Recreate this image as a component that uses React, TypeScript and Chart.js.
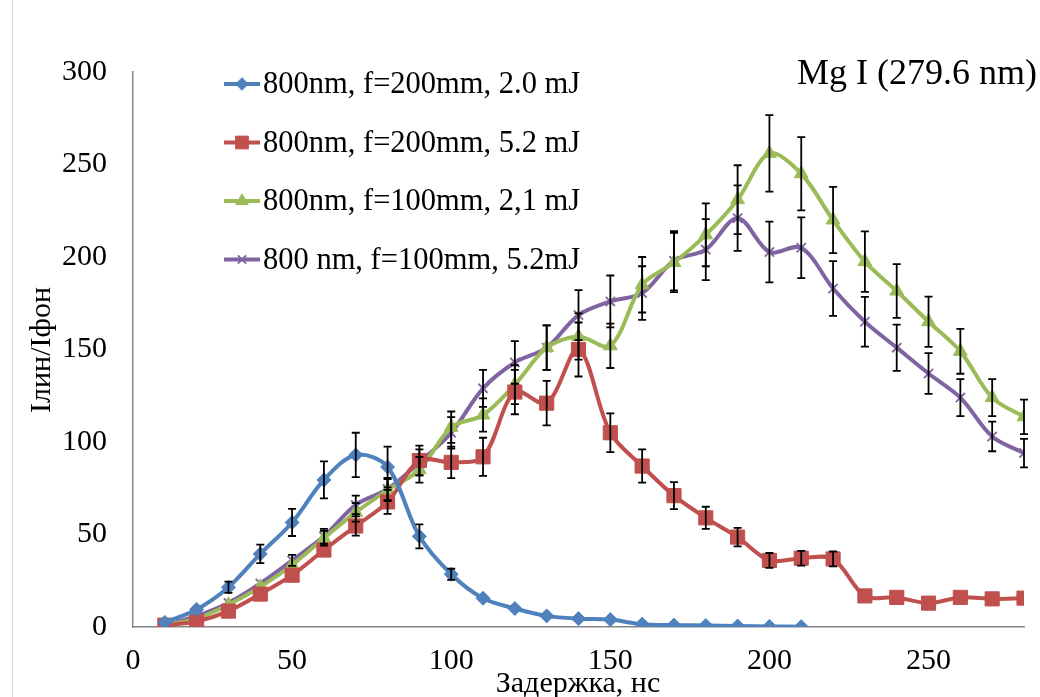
import React, { useEffect, useRef } from "react";
import { Chart, registerables } from "chart.js";
import { drawPoint } from "chart.js/helpers";

Chart.register(...registerables);

const delays = [10, 20, 30, 40, 50, 60, 70, 80, 90, 100, 110, 120, 130, 140, 150, 160, 170, 180, 190, 200, 210, 220, 230, 240, 250, 260, 270, 280];
const blueDelays = [10, 20, 30, 40, 50, 60, 70, 80, 90, 100, 110, 120, 130, 140, 150, 160, 170, 180, 190, 200, 210];

const blueValues = [2.5, 9.5, 21.5, 39.5, 56.5, 79.5, 93, 86.5, 49, 28.5, 15.5, 10, 6, 4.5, 4, 1.5, 1, 0.8, 0.5, 0.3, 0.2];
const blueErrors = [0.3, 1, 3, 5, 7.3, 10, 12, 11, 6.5, 3, 1.5, 1, 0.6, 0.5, 0.4, 0.2, 0.1, 0.1, 0.1, 0.1, 0.1];

const redValues = [1, 3, 8.6, 17.8, 28, 41.6, 54.6, 67.6, 90, 89, 92, 127, 121, 150, 105, 87, 71, 59, 48.6, 36, 37.2, 36.8, 16.8, 16, 12.9, 16, 15.2, 15.6];
const redErrors = [0.2, 0.5, 1, 1.5, 2.5, 3.5, 5.2, 6.5, 8, 8.5, 10.3, 12, 12, 14.6, 10.5, 9, 7.3, 6, 5, 4, 4, 4, 1.5, 1.5, 1, 1.5, 1.5, 1.5];

const greenValues = [1, 4.5, 12, 21.7, 33.5, 48, 62, 74, 85, 108, 114.6, 131, 151, 157, 152, 185, 197, 212, 231, 256, 245, 220, 197.5, 181.6, 165, 149, 124, 113.6];
const greenErrors = [0.1, 0.5, 1, 2, 3, 4, 5, 6, 7, 8.5, 9, 10.5, 12, 12.5, 12, 15, 16, 17, 18.6, 20.7, 19.8, 17.9, 16.3, 14.5, 13.6, 12.1, 10, 9.3];

const purpleValues = [1, 6, 13, 23.5, 36, 49, 66, 74.6, 89, 105, 129, 143, 151, 168.6, 176, 180.5, 198, 204, 221, 202.7, 205, 183, 165, 151, 137, 124, 103, 94];
const purpleErrors = [0.1, 0.5, 1, 2, 3, 4, 5, 6, 7, 8.5, 10, 11.5, 12, 13.5, 14, 14.5, 16, 16.5, 17.7, 16.4, 16.4, 14.8, 13.4, 12.5, 11, 10, 8, 7.7];

const seriesLabels = [
  "800nm, f=200mm, 2.0 mJ",
  "800nm, f=200mm, 5.2 mJ",
  "800nm, f=100mm, 2,1 mJ",
  "800 nm, f=100mm, 5.2mJ",
];

const chartTitle = "Mg I (279.6 nm)";
const xTitle = "Задержка, нс";
const yTitle = "Iлин/Iфон";

const FONT = "'Liberation Serif', 'Times New Roman', serif";

const COLORS = ["#4F81BD", "#C0504D", "#9BBB59", "#8064A2"];
const MARKERS = ["rectRot", "rect", "triangle", "crossRot"];
const RADII = [7, 10, 8, 6.5];

function pts(xs: number[], ys: number[]) {
  return xs.map((x, i) => ({ x, y: ys[i] }));
}

const errorSets = [
  { xs: blueDelays, ys: blueValues, es: blueErrors, r: RADII[0] },
  { xs: delays, ys: redValues, es: redErrors, r: RADII[1] },
  { xs: delays, ys: greenValues, es: greenErrors, r: RADII[2] },
  { xs: delays, ys: purpleValues, es: purpleErrors, r: RADII[3] },
];

const errorBarPlugin = {
  id: "errorBars",
  afterDatasetsDraw(chart: any) {
    const ctx = chart.ctx;
    const xs = chart.scales.x;
    const ys = chart.scales.y;
    ctx.save();
    ctx.strokeStyle = "#000000";
    ctx.lineWidth = 1.8;
    errorSets.forEach((s) => {
      s.xs.forEach((xv, i) => {
        const e = s.es[i];
        if (!e) return;
        const px = xs.getPixelForValue(xv);
        const top = ys.getPixelForValue(s.ys[i] + e);
        const bot = ys.getPixelForValue(Math.max(0, s.ys[i] - e));
        if ((bot - top) / 2 < s.r * 0.7) return;
        ctx.beginPath();
        ctx.moveTo(px, top);
        ctx.lineTo(px, bot);
        ctx.moveTo(px - 4, top);
        ctx.lineTo(px + 4, top);
        ctx.moveTo(px - 4, bot);
        ctx.lineTo(px + 4, bot);
        ctx.stroke();
      });
    });
    ctx.restore();
  },
};

const decorPlugin = {
  id: "decor",
  afterDraw(chart: any) {
    const ctx = chart.ctx;
    ctx.save();
    ctx.strokeStyle = "#D9D9D9";
    ctx.lineWidth = 1;
    ctx.beginPath();
    ctx.moveTo(12.5, 0);
    ctx.lineTo(12.5, chart.height);
    ctx.stroke();

    const rowY = [84, 142.5, 201, 259.5];
    chart.data.datasets.forEach((ds: any, i: number) => {
      const y = rowY[i];
      ctx.strokeStyle = ds.borderColor;
      ctx.lineWidth = 4;
      ctx.beginPath();
      ctx.moveTo(224, y);
      ctx.lineTo(260, y);
      ctx.stroke();
      ctx.fillStyle = ds.pointBackgroundColor;
      ctx.strokeStyle = ds.pointBorderColor;
      ctx.lineWidth = ds.pointBorderWidth;
      drawPoint(ctx, { pointStyle: ds.pointStyle, radius: ds.pointRadius * 0.9, rotation: 0, borderWidth: ds.pointBorderWidth }, 242, y);
      ctx.fillStyle = "#000000";
      ctx.font = `30.5px ${FONT}`;
      ctx.textAlign = "left";
      ctx.textBaseline = "middle";
      ctx.fillText(seriesLabels[i], 263, y + 1);
    });

    ctx.fillStyle = "#000000";
    ctx.font = `36px ${FONT}`;
    ctx.textAlign = "right";
    ctx.textBaseline = "middle";
    ctx.fillText(chartTitle, 1037, 75);

    ctx.font = `30px ${FONT}`;
    ctx.textAlign = "center";
    ctx.textBaseline = "alphabetic";
    ctx.fillText(xTitle, 578, 692);

    ctx.save();
    ctx.translate(42, 350);
    ctx.rotate(-Math.PI / 2);
    ctx.textAlign = "center";
    ctx.textBaseline = "middle";
    ctx.fillText(yTitle, 0, 0);
    ctx.restore();

    ctx.restore();
  },
};

function makeDataset(i: number, data: any[], borderW: number) {
  return {
    label: seriesLabels[i],
    data,
    borderColor: COLORS[i],
    backgroundColor: COLORS[i],
    pointBackgroundColor: COLORS[i],
    pointBorderColor: COLORS[i],
    pointStyle: MARKERS[i],
    pointRadius: RADII[i],
    pointBorderWidth: borderW,
    borderWidth: 4,
    tension: 0.33,
    fill: false,
  };
}

export default function App() {
  const canvasRef = useRef<HTMLCanvasElement | null>(null);

  useEffect(() => {
    if (!canvasRef.current) return;
    const chart = new Chart(canvasRef.current, {
      type: "line",
      data: {
        datasets: [
          makeDataset(0, pts(blueDelays, blueValues), 1),
          makeDataset(1, pts(delays, redValues), 1),
          makeDataset(2, pts(delays, greenValues), 1),
          makeDataset(3, pts(delays, purpleValues), 1.8),
        ] as any,
      },
      options: {
        animation: false,
        responsive: true,
        maintainAspectRatio: false,
        layout: { padding: { top: 72, right: 16, left: 0, bottom: 0 } },
        plugins: {
          legend: { display: false },
          title: { display: false },
          tooltip: { enabled: false },
        },
        scales: {
          x: {
            type: "linear",
            min: 0,
            max: 280,
            grid: { display: false, drawTicks: false },
            border: { display: true, color: "#868686", width: 1.5 },
            ticks: {
              stepSize: 50,
              includeBounds: false,
              color: "#000000",
              font: { family: FONT, size: 30 },
              padding: 16,
              maxRotation: 0,
            },
            afterFit(scale: any) {
              scale.height = 70;
            },
          },
          y: {
            min: 0,
            max: 300,
            grid: { display: false, drawTicks: false },
            border: { display: true, color: "#868686", width: 1.5 },
            ticks: {
              stepSize: 50,
              color: "#000000",
              font: { family: FONT, size: 30 },
              padding: 26,
            },
            afterFit(scale: any) {
              scale.width = 133;
            },
          },
        },
      } as any,
      plugins: [errorBarPlugin, decorPlugin],
    });
    return () => chart.destroy();
  }, []);

  return (
    <div style={{ position: "absolute", left: 0, top: 0, width: 1040, height: 697, background: "#ffffff" }}>
      <canvas ref={canvasRef} />
    </div>
  );
}
